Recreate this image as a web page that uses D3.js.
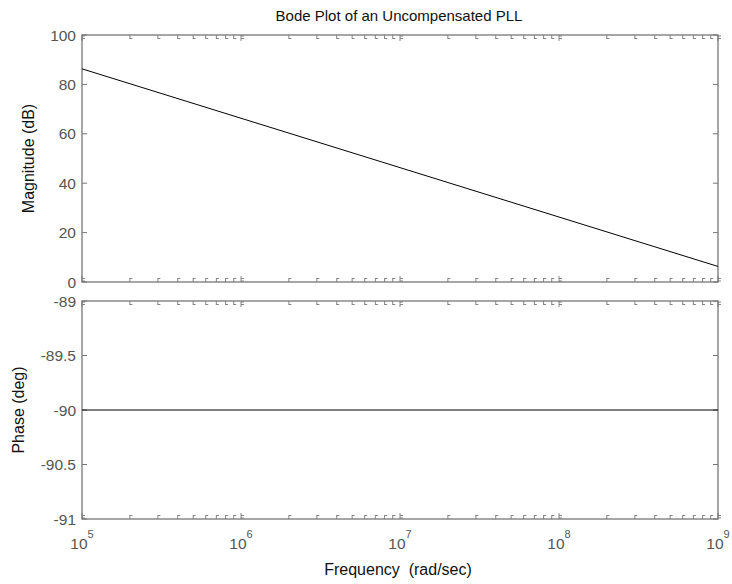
<!DOCTYPE html>
<html lang="en">
<head>
<meta charset="UTF-8" />
<title>Bode Plot of an Uncompensated PLL</title>
<style>
  body { margin: 0; background: #fff; font-family: "Liberation Sans", Arial, sans-serif; }
  svg { display: block; }
</style>
</head>
<body>
<svg id="chart" width="732" height="584"></svg>
<script src="https://d3js.org/d3.v7.min.js"></script>
<script>
// data
const freqs = [1e5, 1e6, 1e7, 1e8, 1e9];
const magDb = [86.3, 66.3, 46.3, 26.3, 6.3];
const phaseDeg = [-90, -90, -90, -90, -90];
const magTicks = [0, 20, 40, 60, 80, 100];
const phaseTicks = [-91, -90.5, -90, -89.5, -89];
const decadeTicks = [5, 6, 7, 8, 9];

const left = 82, right = 718;
const magBox = { top: 35, bottom: 282 };
const phaseBox = { top: 301, bottom: 519 };
const axisColor = "#777";
const labelColor = "#555";

const svg = d3.select("#chart");

const x = d3.scaleLog().domain([1e5, 1e9]).range([left, right]);

// minor log ticks 2..9 per decade
const minorTicks = [];
for (let e = 5; e < 9; e++) for (let m = 2; m <= 9; m++) minorTicks.push(m * Math.pow(10, e));

function drawAxes(box, y, yTicks) {
  const g = svg.append("g");
  g.append("rect")
    .attr("x", left).attr("y", box.top)
    .attr("width", right - left).attr("height", box.bottom - box.top)
    .attr("fill", "none").attr("stroke", axisColor).attr("stroke-width", 1.3);

  // y ticks on both sides
  g.selectAll(null).data(yTicks).join("path")
    .attr("d", d => `M${left},${y(d)}h5M${right},${y(d)}h-5`)
    .attr("stroke", axisColor);
  g.selectAll(null).data(yTicks).join("text")
    .attr("x", left - 6).attr("y", d => y(d))
    .attr("dy", "0.36em").attr("text-anchor", "end")
    .attr("fill", labelColor).attr("font-size", 15.5)
    .text(d => d);

  // x ticks on top and bottom edge (MATLAB-ish little glyph marks)
  [box.top, box.bottom].forEach((yy, i) => {
    const dir = i === 0 ? 1 : -1;
    g.selectAll(null).data(freqs).join("path")
      .attr("d", d => {
        const px = x(d);
        return `M${px},${yy}v${dir * 6}M${px},${yy + dir * 1}h3M${px},${yy + dir * 3.5}h3`;
      })
      .attr("fill", "none").attr("stroke", axisColor).attr("stroke-width", 0.9);
    g.selectAll(null).data(minorTicks).join("path")
      .attr("d", d => {
        const px = x(d);
        return `M${px},${yy}v${dir * 4}M${px},${yy + dir * 3.5}h2.5`;
      })
      .attr("fill", "none").attr("stroke", axisColor).attr("stroke-width", 0.9);
  });
}

const yMag = d3.scaleLinear().domain([0, 100]).range([magBox.bottom, magBox.top]);
drawAxes(magBox, yMag, magTicks);

const yPh = d3.scaleLinear().domain([-91, -89]).range([phaseBox.bottom, phaseBox.top]);
drawAxes(phaseBox, yPh, phaseTicks);

// curves
const magLine = d3.line().x((d, i) => x(freqs[i])).y(d => yMag(d));
svg.append("path").datum(magDb).attr("d", magLine)
  .attr("fill", "none").attr("stroke", "#000").attr("stroke-width", 1);
const phLine = d3.line().x((d, i) => x(freqs[i])).y(d => yPh(d));
svg.append("path").datum(phaseDeg).attr("d", phLine)
  .attr("fill", "none").attr("stroke", "#000").attr("stroke-width", 1);

// decade labels 10^n
const xl = svg.selectAll(".xlab").data(decadeTicks).join("text")
  .attr("x", d => x(Math.pow(10, d)))
  .attr("y", phaseBox.bottom + 30)
  .attr("text-anchor", "middle")
  .attr("fill", labelColor).attr("font-size", 15.5);
xl.append("tspan").text("10");
xl.append("tspan").attr("dy", -11).attr("font-size", 11).text(d => d);

// titles
svg.append("text").attr("x", 399).attr("y", 21)
  .attr("text-anchor", "middle").attr("font-size", 15).attr("fill", "#111")
  .text("Bode Plot of an Uncompensated PLL");
svg.append("text").attr("x", 398).attr("y", 575)
  .attr("text-anchor", "middle").attr("font-size", 16).attr("fill", "#111")
  .attr("xml:space", "preserve")
  .text("Frequency  (rad/sec)");
svg.append("text")
  .attr("transform", `translate(34,${(magBox.top + magBox.bottom) / 2}) rotate(-90)`)
  .attr("text-anchor", "middle").attr("font-size", 16).attr("fill", "#111")
  .text("Magnitude (dB)");
svg.append("text")
  .attr("transform", `translate(24,${(phaseBox.top + phaseBox.bottom) / 2}) rotate(-90)`)
  .attr("text-anchor", "middle").attr("font-size", 16).attr("fill", "#111")
  .text("Phase (deg)");
</script>
</body>
</html>
